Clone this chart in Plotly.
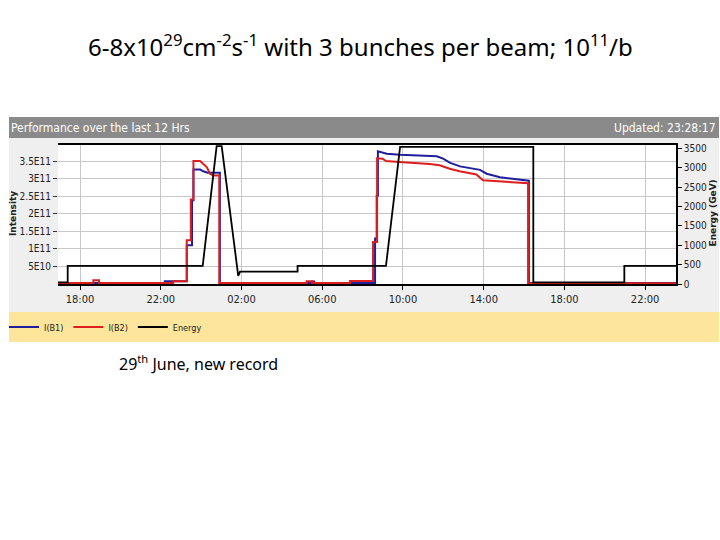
import plotly.graph_objects as go

# time axis in hours since midnight of the first day (26 = 02:00 next day)
tick_hours = [18, 22, 26, 30, 34, 38, 42, 46]
tick_labels = ["18:00", "22:00", "02:00", "06:00", "10:00", "14:00", "18:00", "22:00"]

int_tickvals = [0.5, 1, 1.5, 2, 2.5, 3, 3.5]
int_ticktext = ["5E10", "1E11", "1.5E11", "2E11", "2.5E11", "3E11", "3.5E11"]
energy_tickvals = [0, 500, 1000, 1500, 2000, 2500, 3000, 3500]

# intensity in units of 1E11 protons
b1_hours = [16.91, 22.2, 22.2, 23.29, 23.29, 23.55, 23.55, 23.62, 23.62, 23.95, 24.11, 24.32,
            24.93, 24.93, 29.5, 29.5, 29.6, 29.6, 32.62, 32.62, 32.70, 32.70, 32.76, 32.76,
            33.2, 33.86, 35.68, 35.99, 36.34, 36.83, 37.82, 38.15, 38.81, 39.64, 40.24, 40.24, 47.53]
b1_int = [0.03, 0.03, 0.076, 0.076, 1.11, 1.11, 2.39, 2.39, 3.27, 3.27, 3.22, 3.18,
          3.18, 0.03, 0.03, 0.07, 0.07, 0.03, 0.03, 1.3, 1.3, 2.53, 2.53, 3.79,
          3.72, 3.69, 3.65, 3.58, 3.46, 3.36, 3.26, 3.15, 3.05, 2.99, 2.95, 0.03, 0.03]

b2_hours = [16.91, 18.66, 18.66, 18.94, 18.94, 22.62, 22.62, 23.29, 23.29, 23.49, 23.49, 23.62,
            23.62, 23.95, 24.11, 24.28, 24.44, 24.61, 24.9, 24.9, 29.23, 29.23, 29.5, 29.5,
            31.38, 31.38, 32.52, 32.52, 32.72, 32.72, 32.99, 33.16, 34.0, 35.33, 35.82, 36.32,
            36.81, 37.64, 37.97, 38.46, 39.29, 40.2, 40.2, 47.53]
b2_int = [0.03, 0.03, 0.105, 0.105, 0.03, 0.03, 0.08, 0.08, 1.25, 1.25, 2.41, 2.41,
          3.51, 3.51, 3.43, 3.34, 3.15, 3.1, 3.1, 0.03, 0.03, 0.08, 0.08, 0.03,
          0.03, 0.085, 0.085, 1.2, 1.2, 3.59, 3.58, 3.51, 3.48, 3.43, 3.39, 3.29,
          3.22, 3.13, 2.96, 2.94, 2.91, 2.88, 0.02, 0.02]

energy_hours = [16.91, 17.39, 17.39, 24.08, 24.77, 25.02, 25.84, 25.93, 28.78, 28.78,
                33.16, 33.86, 40.46, 40.46, 44.97, 44.97, 47.53]
energy_gev = [40, 40, 470, 470, 3560, 3560, 210, 320, 320, 470,
              470, 3540, 3540, 40, 40, 470, 470]

W, H = 720, 540
NARROW = "DejaVu Sans Condensed, Liberation Sans Narrow, sans-serif"


def px(x):
    return x / W


def py(y):
    return 1 - y / H


fig = go.Figure()
fig.add_trace(go.Scatter(x=b1_hours, y=b1_int, mode="lines", name="I(B1)",
                         line=dict(color="#1f1f9e", width=2)))
fig.add_trace(go.Scatter(x=b2_hours, y=b2_int, mode="lines", name="I(B2)",
                         line=dict(color="#dc1e1e", width=2)))
fig.add_trace(go.Scatter(x=energy_hours, y=energy_gev, mode="lines", name="Energy",
                         line=dict(color="#000000", width=1.8), yaxis="y2"))

# screenshot panel backgrounds: banner, grey chart area, white plot, yellow legend strip
panel = [
    (117, 138, "#8a8a8a", 9, 719),
    (138, 312, "#efefef", 9, 719),
    (145, 284, "#ffffff", 58, 676),
    (312, 342, "#fde59b", 9, 719),
]
for top, bottom, colour, left, right in panel:
    fig.add_shape(type="rect", xref="paper", yref="paper", x0=px(left), x1=px(right),
                  y0=py(bottom), y1=py(top), fillcolor=colour, line_width=0, layer="below")

fig.add_annotation(text="Performance over the last 12 Hrs", xref="paper", yref="paper",
                   x=px(9), y=py(127.5), xanchor="left", yanchor="middle", showarrow=False,
                   font=dict(family=NARROW, size=12, color="white"))
fig.add_annotation(text="Updated: 23:28:17", xref="paper", yref="paper",
                   x=px(718), y=py(127.5), xanchor="right", yanchor="middle", showarrow=False,
                   font=dict(family=NARROW, size=12, color="white"))

# axis titles, placed like the screenshot (rotated, bold)
fig.add_annotation(text="<b>Intensity</b>", xref="paper", yref="paper", x=px(13), y=py(213),
                   textangle=-90, showarrow=False, xanchor="center", yanchor="middle",
                   font=dict(family="DejaVu Sans, sans-serif", size=9, color="#222"))
fig.add_annotation(text="<b>Energy (GeV)</b>", xref="paper", yref="paper", x=px(712.5), y=py(213),
                   textangle=-90, showarrow=False, xanchor="center", yanchor="middle",
                   font=dict(family="DejaVu Sans, sans-serif", size=9, color="#222"))

# slide text
fig.add_annotation(text="6-8x10<sup>29</sup>cm<sup>-2</sup>s<sup>-1</sup> with 3 bunches per beam; 10<sup>11</sup>/b",
                   xref="paper", yref="paper", x=px(360), y=py(46), xanchor="center", yanchor="middle",
                   showarrow=False, font=dict(family="Noto Sans, sans-serif", size=24, color="black"))
fig.add_annotation(text="29<sup>th</sup> June, new record", xref="paper", yref="paper",
                   x=px(117), y=py(363), xanchor="left", yanchor="middle", showarrow=False,
                   font=dict(family="Noto Sans, sans-serif", size=16, color="black"))

fig.update_layout(
    width=W, height=H,
    margin=dict(l=0, r=0, t=0, b=0),
    paper_bgcolor="white",
    plot_bgcolor="rgba(0,0,0,0)",
    showlegend=True,
    legend=dict(orientation="h", x=px(4), y=py(327), xanchor="left", yanchor="middle",
                bgcolor="rgba(0,0,0,0)", font=dict(family=NARROW, size=9, color="#222"),
                itemwidth=30, tracegroupgap=0),
    xaxis=dict(domain=[px(58), px(676)], range=[16.91, 47.53], tickvals=tick_hours, ticktext=tick_labels,
               showgrid=True, gridcolor="#c8c8c8", gridwidth=1, zeroline=False,
               showline=True, linecolor="black", linewidth=1.5, mirror=True,
               ticks="outside", ticklen=4, tickcolor="black",
               tickfont=dict(family=NARROW, size=11, color="#222"), automargin=False),
    yaxis=dict(domain=[py(284), py(145)], range=[0, 3.97], tickvals=int_tickvals, ticktext=int_ticktext,
               showgrid=True, gridcolor="#c8c8c8", gridwidth=1, zeroline=False, showline=False,
               ticks="outside", ticklen=4, tickcolor="#333",
               tickfont=dict(family=NARROW, size=10, color="#222"), automargin=False),
    yaxis2=dict(overlaying="y", side="right", range=[0, 3590], tickvals=energy_tickvals,
                showgrid=False, zeroline=False, showline=True, linecolor="black", linewidth=1.5,
                ticks="outside", ticklen=4, tickcolor="black",
                tickfont=dict(family=NARROW, size=10, color="#222"), automargin=False),
)

# the page's default 8px body margin would shift and clip the fixed-size figure
fig.write_html("out.html", config={"displayModeBar": False},
               post_script="document.body.style.margin='0px';")
